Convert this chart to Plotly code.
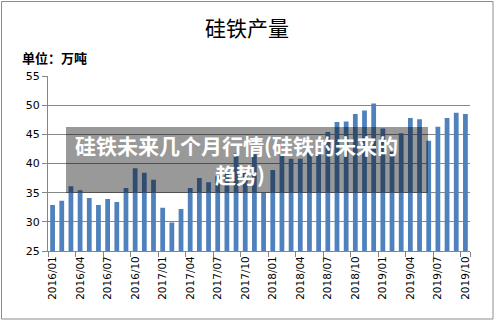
import plotly.graph_objects as go

months = [f"{y}/{m:02d}" for y in (2016, 2017, 2018, 2019) for m in range(1, 13)][:46]
output_2016 = [32.9, 33.6, 36.1, 35.4, 34.1, 32.9, 33.9, 33.4, 35.8, 39.2, 38.4, 37.2]
output_2017 = [32.4, 29.9, 32.2, 35.8, 37.5, 36.8, 37.8, 38.7, 41.7, 38.7, 41.6, 35.0]
output_2018 = [38.9, 41.8, 40.8, 40.8, 41.9, 41.9, 45.4, 47.1, 47.2, 48.5, 49.1, 50.3]
output_2019 = [46.0, 42.0, 45.2, 47.8, 47.6, 43.9, 46.3, 47.8, 48.7, 48.5]
values = output_2016 + output_2017 + output_2018 + output_2019

title_text = "硅铁产量"
unit_text = "单位：万吨"
overlay_line1 = "硅铁未来几个月行情(硅铁的未来的"
overlay_line2 = "趋势)"

W, H = 495, 322
ML, MR, MT, MB = 48, 25, 76, 71
PW, PH = W - ML - MR, H - MT - MB

def px(xp):
    return (xp - ML) / PW

def py(yp):
    return (H - MB - yp) / PH

idx = list(range(len(months)))
gray = "#868686"

fig = go.Figure(go.Bar(x=idx, y=values, marker=dict(color="#4F81BD", line=dict(width=0)), width=0.52))

fig.update_layout(
    width=W, height=H, autosize=False,
    margin=dict(l=ML, r=MR, t=MT, b=MB),
    paper_bgcolor="white", plot_bgcolor="white",
    showlegend=False,
    font=dict(family="DejaVu Sans", color="#000000"),
)
fig.update_xaxes(
    range=[-0.5, len(months) - 0.5],
    tickmode="array", tickvals=idx[::3], ticktext=months[::3],
    tickangle=-90, tickfont=dict(size=10.5, family="DejaVu Sans", color="#000"),
    ticks="", showline=True, linecolor=gray, linewidth=1, showgrid=False, zeroline=False,
    minor=dict(tickmode="array", tickvals=[i - 0.5 for i in idx[::3]] + [len(months) - 0.5],
               ticks="outside", ticklen=5, tickcolor=gray, showgrid=False),
)
fig.update_yaxes(
    range=[25, 55], dtick=5, tick0=25,
    tickfont=dict(size=11, family="DejaVu Sans", color="#000"),
    ticks="outside", ticklen=5, tickcolor=gray,
    showline=True, linecolor=gray, linewidth=1,
    showgrid=True, gridcolor=gray, gridwidth=1, zeroline=False,
)

# outer chart border
fig.add_shape(type="rect", xref="paper", yref="paper",
              x0=px(1.5), x1=px(493), y0=py(319), y1=py(1.5),
              line=dict(color="#8c8c8c", width=1), layer="below")
# watermark box
fig.add_shape(type="rect", xref="paper", yref="paper",
              x0=px(66), x1=px(428), y0=py(193), y1=py(127),
              fillcolor="rgba(0,0,0,0.40)", line=dict(width=0), layer="above")

fig.add_annotation(text=title_text, xref="paper", yref="paper", x=px(247), y=py(27),
                   showarrow=False, xanchor="center", yanchor="middle",
                   font=dict(size=21, family="Noto Sans CJK SC", color="#000"))
fig.add_annotation(text="<b>" + unit_text + "</b>", xref="paper", yref="paper", x=px(20), y=py(57),
                   showarrow=False, xanchor="left", yanchor="middle",
                   font=dict(size=13, family="Noto Sans CJK SC", color="#000"))
fig.add_annotation(text="<b>" + overlay_line1 + "</b>", xref="paper", yref="paper", x=px(236), y=py(145),
                   showarrow=False, xanchor="center", yanchor="middle",
                   font=dict(size=21, family="Noto Sans CJK SC", color="#ffffff"))
fig.add_annotation(text="<b>" + overlay_line2 + "</b>", xref="paper", yref="paper", x=px(240), y=py(174),
                   showarrow=False, xanchor="center", yanchor="middle",
                   font=dict(size=21, family="Noto Sans CJK SC", color="#ffffff"))

fig.write_html("out.html")
